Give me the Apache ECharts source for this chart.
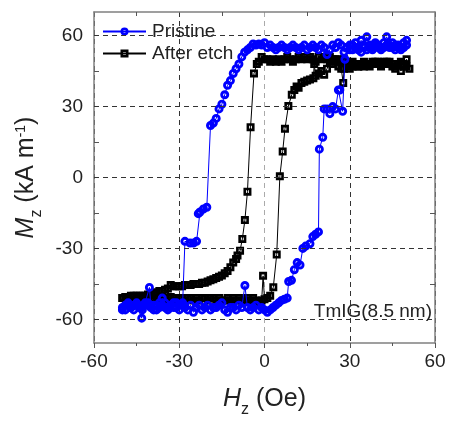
<!DOCTYPE html>
<html><head><meta charset="utf-8">
<script src="https://cdn.jsdelivr.net/npm/echarts@6/dist/echarts.min.js"></script>
<style>html,body{margin:0;padding:0;background:#fff}#c{width:449px;height:423px}</style>
</head><body><div id="c"></div>
<script>
const xTicks = [-60, -30, 0, 30, 60];
const yTicks = [-60, -30, 0, 30, 60];
const yAllTicks = [-60, -45, -30, -15, 0, 15, 30, 45, 60];
const yMinorTicks = [-45, -15, 15, 45];
const seriesNames = ['Pristine', 'After etch'];
const sampleLabel = 'TmIG(8.5 nm)';

// Pristine: field sweep up (-50 -> 50), then down (50 -> -50)
const pristineUp = [
[-50,-56],[-49,-54],[-48,-53],[-47,-55],[-46,-56],[-45,-54],[-43.2,-59.5],[-43,-55],[-42,-53],[-40.5,-46.5],[-40,-54],[-39,-56],[-38,-54],[-37,-53],[-36,-51],[-35,-55],[-34,-56],[-33,-54],[-32,-55],[-31,-53],[-30,-56],[-29,-54],[-28,-55],[-27,-56],[-26,-54],[-25,-57],[-24,-55],[-23,-54],[-22,-56],[-21,-55],[-20,-54],[-19,-56],[-18,-55],[-17,-55],[-16,-54],[-15,-53],[-14,-56],[-13,-57],[-12,-55],[-11,-55],[-10,-56],[-9,-54],[-8,-55],[-6.9,-45.7],[-6,-55],[-5,-56],[-4,-55],[-3,-54],[-2,-56],[-1,-55],[0,-56],[1,-57],[2,-56],[3,-55],[4,-54],[5,-53],[6,-52],[7,-51.5],[8,-51],[8.5,-44],[9.5,-43.5],[10.5,-39],[11.5,-36],[12.5,-37],[13.5,-30],[14.5,-29],[16,-28],[17,-25],[18,-24],[19,-23],[19.3,12],[20.5,17],[21,29],[22,29],[23,27],[24,30],[25,29],[26,37],[26.5,37],[27.5,28],[28.3,50],[29,55],[30,56],[31,54],[32,57],[33,55],[34,58],[35,56],[36,59.5],[37,56],[38,55],[39,57],[40,56],[41,55],[42,57],[43,59.5],[44,56],[45,55],[46,54],[47,56],[48,55],[49,57],[50,58]
];
const pristineDown = [
[50,56],[49,55],[48,54],[47,55],[46,56],[45,57],[44,55],[43,56],[42,55],[41,54],[40,55],[39,56],[38,54],[37,55],[36,54],[35,55],[34,53],[33,54],[32,55],[31,56],[30,54],[29,55],[28,53],[27,56],[26,57],[25,55],[24,56],[23,54],[22,52],[21,55],[20,56],[19,54],[18,55],[17,56],[16,55],[15,54],[14,56],[13,55],[12,54],[11,55],[10,56],[9,55],[8,54],[7,55],[6,56],[5,55],[4,54],[3,55],[2,56],[1,55],[0,57],[-1,56],[-2,56.5],[-3,56],[-4,56.5],[-5,55],[-6,54],[-7,53],[-8,51],[-9,48],[-10,46],[-11,44],[-12,41],[-13,39],[-14,35],[-15,31],[-16,29],[-17,25],[-18,23],[-19,22],[-20.3,-12.6],[-21.5,-13.3],[-22.7,-14.6],[-23.3,-15.3],[-23.9,-27],[-25,-27.7],[-26.2,-27.7],[-28,-27],[-28.8,-53],[-30,-54],[-31,-55],[-32,-53],[-33,-54],[-34,-55],[-35,-53],[-36,-54],[-37,-55],[-38,-56],[-39,-54],[-40,-55],[-41,-53],[-42,-54],[-43,-56],[-44,-55],[-45,-53],[-46,-54],[-47,-55],[-48,-54],[-49,-56],[-50,-55]
];
// After etch
const etchUp = [
[-50,-51],[-49,-50.5],[-48,-51],[-47,-52],[-46,-50],[-45,-51],[-44,-52],[-43,-51],[-42,-52],[-41,-51],[-40,-50],[-39,-51],[-38,-52],[-37,-51],[-36,-51],[-35,-52],[-34,-51],[-33,-50.5],[-32,-51],[-31,-52],[-30,-51],[-29,-51],[-28,-52],[-27,-51],[-26,-51],[-25,-52],[-24,-51],[-23,-52],[-22,-51],[-21,-51],[-20,-52],[-19,-51],[-18,-51],[-17,-52],[-16,-51],[-15,-52],[-14,-52],[-13,-51],[-12,-52],[-11,-51],[-10,-52],[-9,-51],[-8,-52],[-7,-52],[-6,-51],[-5,-52],[-4,-51],[-3,-52],[-2,-53],[-1,-52],[-0.5,-41.6],[0,-51.5],[1,-51],[2,-50],[3.1,-46.4],[4.3,-32.6],[5.4,0.5],[6.4,11],[7.2,20.6],[8.4,30.2],[9.6,35],[10.5,37],[11.3,38.5],[12,38],[13,40],[14,40.5],[15,41],[16,41.5],[17.2,42],[17.5,48],[18,43],[19,44],[20,45],[21,43.5],[22,46],[23,49],[24,48],[25,50],[26,47],[27,46],[27.7,40],[28,46],[29,47],[30,46],[31,47],[32,48],[33,47],[34,48],[35,47],[36,48],[37,47],[38,48],[39,49],[40,48],[41,47],[42,48],[43,49],[44,48],[45,47],[46,46],[47,48],[48,45],[49,47],[50,50],[51,46]
];
const etchDown = [
[50,47],[49,48],[48,49],[47,48],[46,47],[45,48],[44,49],[43,48],[42,49],[41,48],[40,49],[39,48],[38,49],[37,48],[36,48],[35,49],[34,48],[33,47],[32,48],[31,49],[30,48],[29,49],[28,50],[27,49],[26,50],[25,49],[24,50],[23,51],[22,50],[21,51],[20,50],[19,51],[18,49],[17,50],[16,51],[15,50],[14,51],[13,50],[12,51],[11,50],[10,49],[9,50],[8,51],[7,50],[6,49],[5,50],[4,49],[3,50],[2,49],[1,50],[0,50],[-1,51],[-2,49],[-2.7,48],[-3.7,44],[-4.9,21.3],[-6,-6],[-6.9,-18],[-7.8,-26],[-8.6,-31],[-9.5,-33],[-10,-34.5],[-11,-36],[-12,-38],[-13,-39.5],[-14,-40.5],[-15,-41.5],[-16,-42],[-17,-42.5],[-18,-43],[-19,-43.5],[-20,-44],[-21,-44.5],[-22,-44.5],[-23,-45],[-24,-45],[-25,-45],[-26,-45.5],[-27,-45.5],[-28,-45.5],[-29,-46],[-30,-46],[-31,-46],[-32,-46],[-33,-45.5],[-34,-47],[-35,-47.5],[-36,-48],[-37,-48],[-38,-48.5],[-39,-49],[-40,-49],[-41,-49.5],[-42,-50],[-43,-50],[-44,-50],[-45,-50],[-46,-50.5],[-47,-50],[-48,-50.5],[-49,-51],[-50,-51]
];

const FF = '"Liberation Sans", Arial, sans-serif';
const TXT = '#222';
const FRAME = '#808080';
const RING = 'path://M0,10A10,10 0 1,0 20,10A10,10 0 1,0 0,10ZM6.4,10A3.6,3.6 0 1,1 13.6,10A3.6,3.6 0 1,1 6.4,10Z';
const SQRING = 'path://M0,0H20V20H0ZM6.5,6.5V13.5H13.5V6.5Z';
const nameRich = {
  i: {fontSize: 25, fontStyle: 'italic', fontFamily: FF, color: TXT, verticalAlign: 'top', lineHeight: 28},
  n: {fontSize: 25, fontFamily: FF, color: TXT, verticalAlign: 'top', lineHeight: 28},
  s: {fontSize: 16, fontFamily: FF, color: TXT, verticalAlign: 'top', lineHeight: 16, padding: [15, 0, 0, 0]},
  p: {fontSize: 14, fontFamily: FF, color: TXT, verticalAlign: 'top', lineHeight: 14, padding: [1, 0, 0, 0]}
};

const chart = echarts.init(document.getElementById('c'), null, {renderer: 'canvas'});
chart.setOption({
  animation: false,
  backgroundColor: '#fff',
  grid: {left: 94, right: 14, top: 12, bottom: 73, containLabel: false},
  legend: {
    data: seriesNames,
    orient: 'vertical', left: 102, top: 22, padding: 0, itemGap: 3,
    itemWidth: 43, itemHeight: 10,
    textStyle: {fontSize: 19, fontFamily: FF, color: TXT, padding: [0, 0, 0, 1]}
  },
  xAxis: [{
    type: 'value', min: xTicks[0], max: xTicks[xTicks.length - 1], interval: 30, position: 'bottom',
    axisLine: {show: true, onZero: false, lineStyle: {color: FRAME, width: 1.5}},
    axisTick: {show: true, inside: false, length: 5, lineStyle: {color: '#555'}},
    minorTick: {show: true, splitNumber: 2, length: 3, lineStyle: {color: '#555'}},
    axisLabel: {fontSize: 19, fontFamily: FF, color: TXT, margin: 9},
    splitLine: {show: true, lineStyle: {type: [5, 4], width: 1, color: ['#333', '#333', '#aaa', '#333', '#333']}},
    name: '{i|H}{s|z}{n| (Oe)}', nameLocation: 'middle', nameGap: 44,
    nameTextStyle: {rich: nameRich}
  }, {
    type: 'value', min: xTicks[0], max: xTicks[xTicks.length - 1], interval: 30, position: 'top',
    axisLine: {show: true, onZero: false, lineStyle: {color: FRAME, width: 1.5}},
    axisTick: {show: false, inside: true},
    minorTick: {show: true, splitNumber: 2, length: 4, lineStyle: {color: '#555'}},
    axisLabel: {show: false}, splitLine: {show: false}
  }],
  yAxis: [{
    type: 'value', min: -70, max: 70, position: 'left',
    axisLine: {show: true, onZero: false, lineStyle: {color: FRAME, width: 1.5}},
    axisTick: {show: true, inside: true, length: 5, customValues: yAllTicks, lineStyle: {color: '#555'}},
    axisLabel: {customValues: yTicks, fontSize: 19, fontFamily: FF, color: TXT, margin: 11},
    splitLine: {show: false},
    name: '{i|M}{s|z}{n| (kA m}{p|-1}{n|)}', nameLocation: 'middle', nameGap: 50,
    nameTextStyle: {rich: nameRich}
  }, {
    type: 'value', min: -70, max: 70, position: 'right',
    axisLine: {show: true, onZero: false, lineStyle: {color: FRAME, width: 1.5}},
    axisTick: {show: true, inside: true, length: 5, customValues: yMinorTicks, lineStyle: {color: '#555'}},
    axisLabel: {show: false}, splitLine: {show: false}
  }],
  series: [{
    name: seriesNames[1], type: 'line', xAxisIndex: 0, yAxisIndex: 0,
    data: etchUp.concat(etchDown),
    symbol: SQRING, symbolSize: 8, showSymbol: true, showAllSymbol: true,
    color: '#000',
    itemStyle: {color: '#000', borderWidth: 0},
    lineStyle: {color: '#000', width: 1},
    z: 2,
    markLine: {
      silent: true, symbol: ['none', 'none'], label: {show: false}, animation: false,
      lineStyle: {type: [5, 4], width: 1, color: '#333'},
      emphasis: {disabled: true},
      data: yTicks.map(v => ({yAxis: v}))
    }
  }, {
    name: seriesNames[0], type: 'line', xAxisIndex: 0, yAxisIndex: 0,
    data: pristineUp.concat(pristineDown),
    symbol: RING, symbolSize: 9, showSymbol: true, showAllSymbol: true,
    color: '#0000ff',
    itemStyle: {color: '#0000ff', borderWidth: 0},
    lineStyle: {color: '#0000ff', width: 1},
    z: 3
  }],
  graphic: [{
    type: 'text', right: 17, top: 302, z: 10,
    style: {text: sampleLabel, font: '19px "Liberation Sans", Arial, sans-serif', fill: TXT}
  }]
});
</script>
</body></html>
